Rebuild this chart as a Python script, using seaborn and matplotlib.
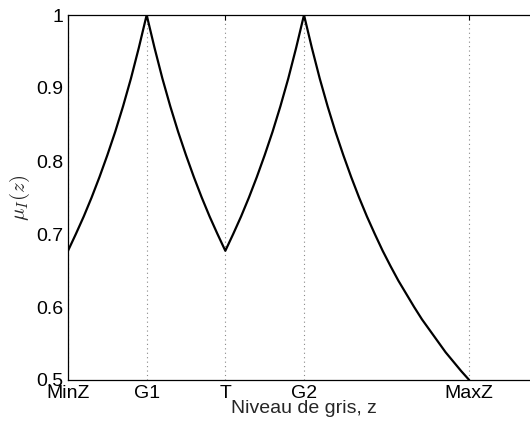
import matplotlib
matplotlib.use("Agg")
import matplotlib.pyplot as plt
import seaborn as sns
import pandas as pd

# Gray levels (z) and membership values
z_values = [0, 5, 10, 15, 20, 25, 30, 35, 40, 45, 50, 55, 60, 65, 70, 75, 80, 85, 90, 95,
            100, 105, 110, 115, 120, 125, 130, 135, 140, 145, 150, 155, 160, 165, 170, 175,
            180, 185, 190, 195, 200, 205, 210, 215, 220, 225, 230, 235, 240, 245, 250, 255]
mu_values = [0.677, 0.700, 0.724, 0.750, 0.778, 0.808, 0.840, 0.875, 0.913, 0.955, 1.000,
             0.955, 0.913, 0.875, 0.840, 0.808, 0.778, 0.750, 0.724, 0.700, 0.677,
             0.700, 0.724, 0.750, 0.778, 0.808, 0.840, 0.875, 0.913, 0.955, 1.000,
             0.955, 0.913, 0.875, 0.840, 0.808, 0.778, 0.750, 0.724, 0.700, 0.677,
             0.656, 0.636, 0.618, 0.600, 0.583, 0.568, 0.553, 0.538, 0.525, 0.512, 0.500]

x_tick_pos = [0, 50, 100, 150, 255]
x_tick_labels = ["MinZ", "G1", "T", "G2", "MaxZ"]
y_ticks = [0.5, 0.6, 0.7, 0.8, 0.9, 1.0]
y_tick_labels = ["0.5", "0.6", "0.7", "0.8", "0.9", "1"]

sns.set_style("white")
plt.rcParams["font.family"] = ["Liberation Sans", "DejaVu Sans"]
plt.rcParams["mathtext.fontset"] = "cm"

df = pd.DataFrame({"z": z_values, "mu": mu_values})

fig = plt.figure(figsize=(5.30, 4.29), dpi=100)
ax = fig.add_axes([68 / 530, (429 - 380) / 429, (540 - 68) / 530, 365 / 429])

sns.lineplot(data=df, x="z", y="mu", color="black", linewidth=1.6, estimator=None,
             sort=False, ax=ax, zorder=3)

ax.set_xlim(0, 300)
ax.set_ylim(0.5, 1.0)
ax.set_xticks(x_tick_pos)
ax.set_xticklabels(x_tick_labels)
ax.set_yticks(y_ticks)
ax.set_yticklabels(y_tick_labels)

ax.xaxis.grid(True, linestyle=(0, (1, 3)), color="#888888", linewidth=0.8)
ax.yaxis.grid(False)

for s in ax.spines.values():
    s.set_color("black")
    s.set_linewidth(0.9)

ax.tick_params(axis="both", direction="in", length=3.5, width=0.8, color="black",
               labelsize=14, labelcolor="black", top=True, right=True)
ax.tick_params(axis="y", pad=3.5)
ax.tick_params(axis="x", pad=3.5)

ax.set_xlabel("Niveau de gris, z", fontsize=14, labelpad=-1)
ax.set_ylabel(r"$\mu_I(z)$", fontsize=15, labelpad=3)

fig.savefig("out.png", dpi=100)
